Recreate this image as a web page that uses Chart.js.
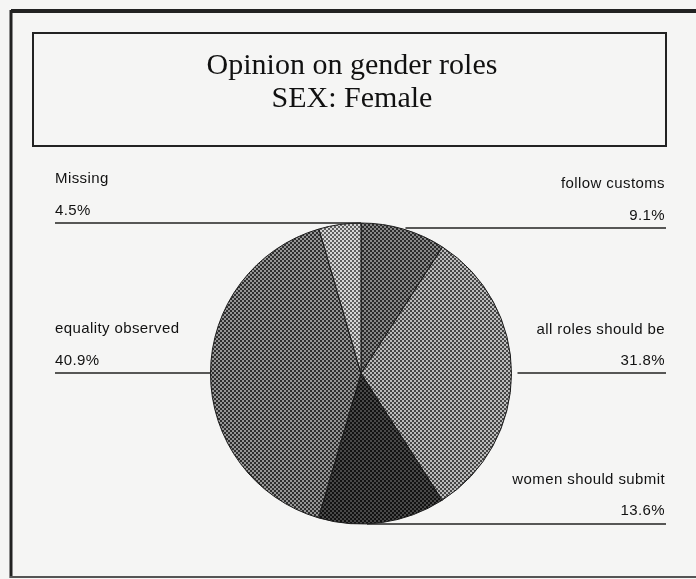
<!DOCTYPE html>
<html>
<head>
<meta charset="utf-8">
<script src="https://cdn.jsdelivr.net/npm/chart.js@4/dist/chart.umd.min.js"></script>
<style>
  html, body { margin: 0; padding: 0; background: #f5f5f4; }
  #wrap { position: relative; width: 696px; height: 579px; }
</style>
</head>
<body>
<div id="wrap"><canvas id="pieChart" width="696" height="579"></canvas></div>
<script>
const titleLines = ['Opinion on gender roles', 'SEX: Female'];
const categories = ['follow customs', 'all roles should be', 'women should submit', 'equality observed', 'Missing'];
const percents = [9.1, 31.8, 13.6, 40.9, 4.5];

// side of the label and where its text / underline sit
const labelSpots = [
  { side: 'right', nameY: 188, valY: 220, lineY: 228 },
  { side: 'right', nameY: 334, valY: 365, lineY: 373 },
  { side: 'right', nameY: 484, valY: 515, lineY: 524 },
  { side: 'left', nameY: 333, valY: 365, lineY: 373 },
  { side: 'left', nameY: 183, valY: 215, lineY: 223 }
];

// dithered fills like the scanned print
const shades = [
  ['#2a2a2a', '#888888'],
  ['#454545', '#bcbcbc'],
  ['#121212', '#494949'],
  ['#2e2e2e', '#969696'],
  ['#5e5e5e', '#d6d6d6']
];

function makePattern(dark, light) {
  const c = document.createElement('canvas');
  c.width = 4;
  c.height = 4;
  const g = c.getContext('2d');
  g.fillStyle = light;
  g.fillRect(0, 0, 4, 4);
  g.fillStyle = dark;
  g.fillRect(0, 0, 2, 2);
  g.fillRect(2, 2, 2, 2);
  return g.createPattern(c, 'repeat');
}

const decorations = {
  id: 'decorations',
  afterDraw(chart) {
    const ctx = chart.ctx;
    ctx.save();

    // outer frame
    ctx.strokeStyle = '#222';
    ctx.lineWidth = 4;
    ctx.beginPath();
    ctx.moveTo(11, 11);
    ctx.lineTo(700, 11);
    ctx.stroke();
    ctx.lineWidth = 3;
    ctx.beginPath();
    ctx.moveTo(11, 10);
    ctx.lineTo(11, 578);
    ctx.stroke();
    ctx.lineWidth = 2;
    ctx.strokeStyle = '#555';
    ctx.beginPath();
    ctx.moveTo(10, 577);
    ctx.lineTo(700, 577);
    ctx.stroke();

    // title box
    ctx.strokeStyle = '#222';
    ctx.lineWidth = 2;
    ctx.strokeRect(33, 33, 633, 113);

    ctx.fillStyle = '#111';
    ctx.font = '30px "Liberation Serif", "DejaVu Serif", serif';
    ctx.textAlign = 'center';
    ctx.textBaseline = 'alphabetic';
    ctx.fillText(titleLines[0], 352, 74);
    ctx.fillText(titleLines[1], 352, 107);

    // slice labels with underlines running to the pie edge
    const arc = chart.getDatasetMeta(0).data[0];
    const cx = arc.x, cy = arc.y, r = arc.outerRadius;
    ctx.font = '15px "Liberation Sans", Arial, sans-serif';
    ctx.letterSpacing = '0.4px';
    ctx.lineWidth = 1.5;
    ctx.strokeStyle = '#222';
    categories.forEach((name, i) => {
      const s = labelSpots[i];
      const dy = s.lineY - cy;
      const half = Math.sqrt(Math.max(r * r - dy * dy, 0));
      ctx.fillStyle = '#111';
      ctx.beginPath();
      if (s.side === 'left') {
        ctx.textAlign = 'left';
        ctx.fillText(name, 55, s.nameY);
        ctx.fillText(percents[i].toFixed(1) + '%', 55, s.valY);
        ctx.moveTo(55, s.lineY);
        ctx.lineTo(cx - half, s.lineY);
      } else {
        ctx.textAlign = 'right';
        ctx.fillText(name, 665, s.nameY);
        ctx.fillText(percents[i].toFixed(1) + '%', 665, s.valY);
        ctx.moveTo(cx + half + 6, s.lineY);
        ctx.lineTo(666, s.lineY);
      }
      ctx.stroke();
    });
    ctx.restore();
  }
};

new Chart(document.getElementById('pieChart'), {
  type: 'pie',
  data: {
    labels: categories,
    datasets: [{
      data: percents,
      backgroundColor: shades.map(s => makePattern(s[0], s[1])),
      borderColor: '#1a1a1a',
      borderWidth: 1
    }]
  },
  options: {
    responsive: false,
    animation: false,
    layout: { padding: { left: 210, right: 184, top: 222, bottom: 54 } },
    plugins: {
      legend: { display: false },
      title: { display: false },
      tooltip: { enabled: false }
    }
  },
  plugins: [decorations]
});
</script>
</body>
</html>
